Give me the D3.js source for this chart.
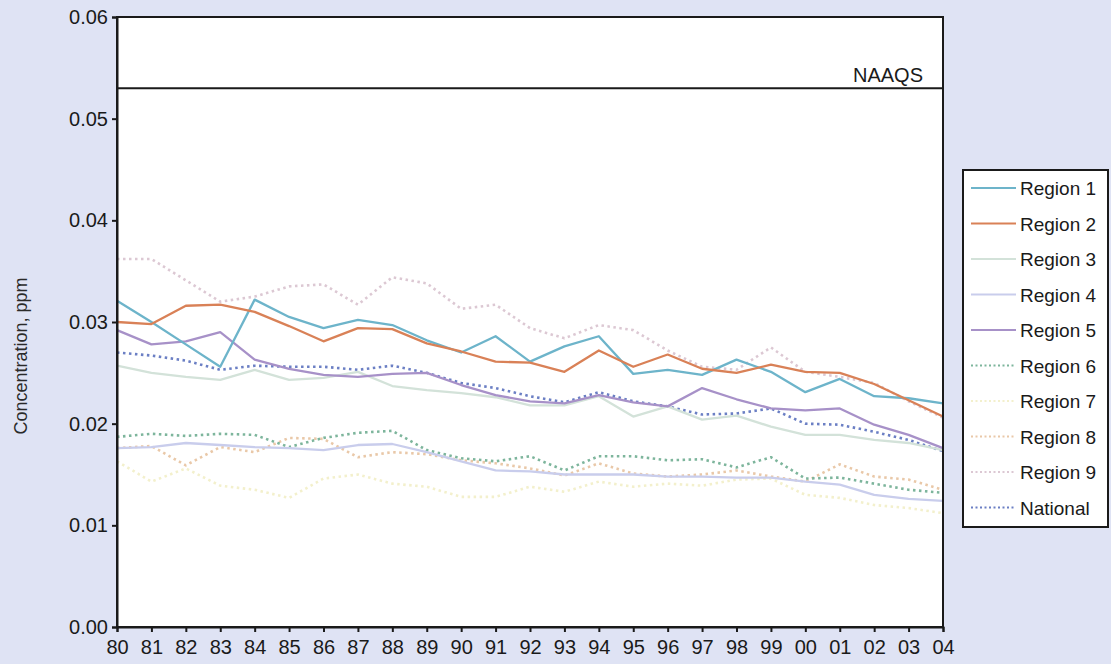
<!DOCTYPE html>
<html>
<head>
<meta charset="utf-8">
<script src="https://cdn.jsdelivr.net/npm/d3@7"></script>
<style>
  html, body { margin: 0; padding: 0; background: #dfe3f4; }
  svg { display: block; font-family: "Liberation Sans", Arial, sans-serif; }
</style>
</head>
<body>
<svg id="chart" width="1111" height="664"></svg>
<script>
// Annual NO2 concentration by EPA region, 1980-2004 (ppm)
const years = ["80","81","82","83","84","85","86","87","88","89","90","91","92","93","94","95","96","97","98","99","00","01","02","03","04"];
const yTicks = [0.00, 0.01, 0.02, 0.03, 0.04, 0.05, 0.06];
const naaqs = 0.053;

const region1 = [0.0321,0.0300,0.0278,0.0256,0.0322,0.0305,0.0294,0.0302,0.0297,0.0282,0.0270,0.0286,0.0261,0.0276,0.0286,0.0249,0.0253,0.0248,0.0263,0.0251,0.0231,0.0244,0.0227,0.0225,0.0220];
const region2 = [0.0300,0.0298,0.0316,0.0317,0.0310,0.0296,0.0281,0.0294,0.0293,0.0279,0.0271,0.0261,0.0260,0.0251,0.0272,0.0256,0.0268,0.0254,0.0250,0.0258,0.0251,0.0250,0.0239,0.0223,0.0207];
const region3 = [0.0257,0.0250,0.0246,0.0243,0.0253,0.0243,0.0245,0.0251,0.0237,0.0233,0.0230,0.0226,0.0218,0.0218,0.0227,0.0207,0.0217,0.0204,0.0208,0.0197,0.0189,0.0189,0.0184,0.0181,0.0174];
const region4 = [0.0176,0.0177,0.0181,0.0179,0.0177,0.0176,0.0174,0.0179,0.0180,0.0172,0.0163,0.0154,0.0153,0.0150,0.0150,0.0150,0.0148,0.0148,0.0147,0.0147,0.0143,0.0140,0.0130,0.0126,0.0124];
const region5 = [0.0292,0.0278,0.0281,0.0290,0.0263,0.0254,0.0248,0.0246,0.0249,0.0250,0.0238,0.0228,0.0222,0.0220,0.0228,0.0221,0.0217,0.0235,0.0224,0.0215,0.0213,0.0215,0.0199,0.0189,0.0176];
const region6 = [0.0187,0.0190,0.0188,0.0190,0.0189,0.0177,0.0186,0.0191,0.0193,0.0174,0.0166,0.0163,0.0168,0.0154,0.0168,0.0168,0.0164,0.0165,0.0157,0.0167,0.0146,0.0147,0.0141,0.0135,0.0132];
const region7 = [0.0163,0.0143,0.0156,0.0139,0.0135,0.0127,0.0146,0.0150,0.0141,0.0138,0.0128,0.0128,0.0138,0.0133,0.0143,0.0138,0.0141,0.0139,0.0145,0.0146,0.0130,0.0127,0.0120,0.0117,0.0112];
const region8 = [0.0176,0.0178,0.0159,0.0177,0.0172,0.0186,0.0185,0.0167,0.0172,0.0170,0.0164,0.0161,0.0156,0.0149,0.0161,0.0151,0.0148,0.0150,0.0154,0.0148,0.0143,0.0160,0.0148,0.0145,0.0135];
const region9 = [0.0362,0.0362,0.0341,0.0320,0.0325,0.0335,0.0337,0.0317,0.0344,0.0338,0.0313,0.0317,0.0294,0.0284,0.0297,0.0292,0.0272,0.0256,0.0253,0.0275,0.0251,0.0246,0.0240,0.0222,0.0206];
const national = [0.0270,0.0267,0.0262,0.0253,0.0257,0.0256,0.0256,0.0253,0.0257,0.0250,0.0240,0.0235,0.0227,0.0221,0.0231,0.0222,0.0217,0.0209,0.0210,0.0215,0.0200,0.0199,0.0192,0.0184,0.0173];

const seriesNames = ["Region 1","Region 2","Region 3","Region 4","Region 5","Region 6","Region 7","Region 8","Region 9","National"];
const seriesValues = [region1, region2, region3, region4, region5, region6, region7, region8, region9, national];
const seriesColors = ["#6db4ca","#d98157","#d3e2d9","#c9cdec","#a791c8","#7db59c","#f3f0cc","#e9c8a8","#dcc8d3","#6b7fc4"];
const seriesDotted = [false,false,false,false,false,true,true,true,true,true];

const svg = d3.select("#chart");
const plot = { left: 117, right: 943, top: 17, bottom: 627 };
const ink = "#1a1a1a";
const font = "Liberation Sans, Arial, sans-serif";

const x = d3.scalePoint().domain(years).range([plot.left, plot.right]);
const y = d3.scaleLinear().domain([0, 0.06]).range([plot.bottom, plot.top]);

// plot background
svg.append("rect")
  .attr("x", plot.left).attr("y", plot.top)
  .attr("width", plot.right - plot.left).attr("height", plot.bottom - plot.top)
  .attr("fill", "#ffffff");

// series lines; dotted series drawn first so solid ones sit on top where they overlap
const line = d3.line().x((d, i) => x(years[i])).y(d => y(d));
const order = [8, 7, 6, 5, 9, 2, 3, 4, 0, 1];
order.forEach(k => {
  svg.append("path")
    .datum(seriesValues[k])
    .attr("d", line)
    .attr("fill", "none")
    .attr("stroke", seriesColors[k])
    .attr("stroke-width", seriesDotted[k] ? 2.6 : 2.3)
    .attr("stroke-dasharray", seriesDotted[k] ? "2.5,3.5" : null)
    .attr("stroke-linejoin", "round");
});

// NAAQS reference line
svg.append("line")
  .attr("x1", plot.left).attr("x2", plot.right)
  .attr("y1", y(naaqs)).attr("y2", y(naaqs))
  .attr("stroke", ink).attr("stroke-width", 2);
svg.append("text")
  .attr("x", plot.right - 20).attr("y", y(naaqs) - 6)
  .attr("text-anchor", "end")
  .attr("font-size", 20).attr("fill", ink)
  .text("NAAQS");

// frame
svg.append("rect")
  .attr("x", plot.left).attr("y", plot.top)
  .attr("width", plot.right - plot.left).attr("height", plot.bottom - plot.top)
  .attr("fill", "none").attr("stroke", ink).attr("stroke-width", 2);

// axes
const yAxis = d3.axisLeft(y).tickValues(yTicks).tickFormat(d3.format(".2f")).tickSize(5).tickPadding(4);
const gy = svg.append("g").attr("transform", `translate(${plot.left},0)`).call(yAxis);
gy.select(".domain").attr("stroke", ink).attr("stroke-width", 2);
gy.selectAll(".tick line").attr("stroke", ink).attr("stroke-width", 2);
gy.selectAll(".tick text").attr("font-size", 20).attr("fill", ink).attr("font-family", font);

const xAxis = d3.axisBottom(x).tickSize(5).tickPadding(8);
const gx = svg.append("g").attr("transform", `translate(0,${plot.bottom})`).call(xAxis);
gx.select(".domain").attr("stroke", ink).attr("stroke-width", 2);
gx.selectAll(".tick line").attr("stroke", ink).attr("stroke-width", 2);
gx.selectAll(".tick text").attr("font-size", 20).attr("fill", ink).attr("font-family", font);

// y axis title
svg.append("text")
  .attr("transform", `translate(27,356) rotate(-90)`)
  .attr("text-anchor", "middle")
  .attr("font-size", 18).attr("fill", "#2a2a2a")
  .text("Concentration, ppm");

// legend
const legend = svg.append("g").attr("transform", "translate(963,170)");
legend.append("rect")
  .attr("width", 145).attr("height", 357)
  .attr("fill", "#ffffff").attr("stroke", ink).attr("stroke-width", 2);
seriesNames.forEach((name, k) => {
  const cy = 18 + k * 35.5;
  legend.append("line")
    .attr("x1", 8).attr("x2", 53).attr("y1", cy).attr("y2", cy)
    .attr("stroke", seriesColors[k])
    .attr("stroke-width", 2)
    .attr("stroke-dasharray", seriesDotted[k] ? "2,2.5" : null);
  legend.append("text")
    .attr("x", 57).attr("y", cy + 7)
    .attr("font-size", 19).attr("fill", ink)
    .text(name);
});
</script>
</body>
</html>
